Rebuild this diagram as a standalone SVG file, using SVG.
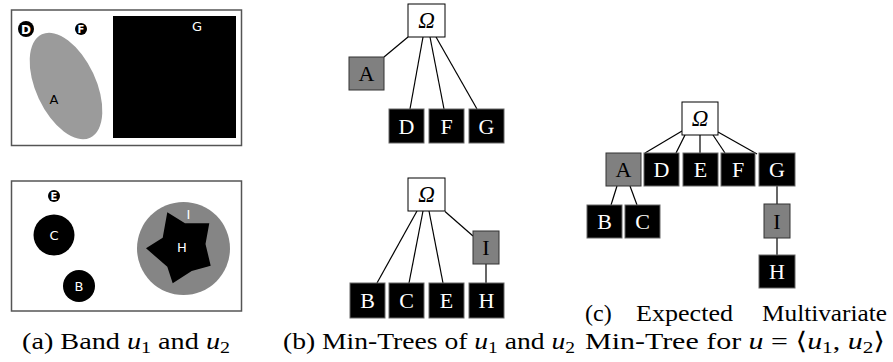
<svg xmlns="http://www.w3.org/2000/svg" width="893" height="362" viewBox="0 0 893 362">
  <style>
    .frame{fill:#fff;stroke:#555;stroke-width:1.5}
    .sans{font-family:"DejaVu Sans","Liberation Sans",sans-serif;text-anchor:middle}
    .edge{stroke:#000;stroke-width:1.2;fill:none}
    .nb{fill:#000;stroke:#666;stroke-width:1}
    .ng{fill:#808080;stroke:#333;stroke-width:1}
    .nw{fill:#fff;stroke:#000;stroke-width:1}
    .lbl{font-family:"Liberation Serif","Times New Roman","DejaVu Serif",serif;font-size:22px;text-anchor:middle}
    .lw{fill:#fff}
    .om{font-style:italic;font-size:23px}
    .cap{font-family:"Liberation Serif","Times New Roman","DejaVu Serif",serif;font-size:24px;fill:#000}
    .mi{font-style:italic}
  </style>

  <!-- (a) band images -->
  <g id="band-u1">
    <rect class="frame" x="11.5" y="10" width="230" height="135.5"/>
    <rect x="113" y="16" width="123" height="122" fill="#000"/>
    <ellipse cx="66" cy="86" rx="30" ry="57" transform="rotate(-25 66 86)" fill="#9b9b9b"/>
    <circle cx="26" cy="29" r="8" fill="#000"/>
    <text class="sans" x="26" y="33.5" font-size="12" font-weight="bold" fill="#fff">D</text>
    <circle cx="81" cy="29" r="6" fill="#000"/>
    <text class="sans" x="81" y="32.5" font-size="10" font-weight="bold" fill="#fff">F</text>
    <text class="sans" x="54" y="104" font-size="13" fill="#000">A</text>
    <text class="sans" x="197" y="31" font-size="13" fill="#fff">G</text>
  </g>
  <g id="band-u2">
    <rect class="frame" x="11.5" y="181" width="230" height="130"/>
    <circle cx="54" cy="196" r="6" fill="#000"/>
    <text class="sans" x="54" y="199.5" font-size="10" font-weight="bold" fill="#fff">E</text>
    <circle cx="54" cy="235" r="20.5" fill="#000"/>
    <text class="sans" x="54" y="240" font-size="13" fill="#fff">C</text>
    <circle cx="79" cy="286" r="16" fill="#000"/>
    <text class="sans" x="79" y="291" font-size="13" fill="#fff">B</text>
    <circle cx="183.5" cy="248.5" r="46.5" fill="#858585"/>
    <polygon points="167.3,212.3 185,223.3 209.3,223.3 205.5,244 210.7,265.7 191.7,271 172.7,283.3 167.3,266.7 146,248.3 162.7,237.7" fill="#000"/>
    <text class="sans" x="188.5" y="218.5" font-size="13" fill="#fff">I</text>
    <text class="sans" x="182" y="251.5" font-size="13" fill="#fff">H</text>
  </g>

  <!-- connectors -->
  <g id="connectors" class="edge">
    <!-- min-tree of u1 -->
    <line x1="408" y1="37" x2="384" y2="57"/>
    <line x1="423" y1="37" x2="410" y2="109"/>
    <line x1="430" y1="37" x2="444" y2="109"/>
    <line x1="436" y1="37" x2="477" y2="109"/>
    <!-- min-tree of u2 -->
    <line x1="417" y1="211" x2="377" y2="283"/>
    <line x1="423" y1="211" x2="409" y2="283"/>
    <line x1="429" y1="211" x2="443" y2="283"/>
    <line x1="445" y1="211.5" x2="473" y2="236"/>
    <line x1="486" y1="264" x2="486" y2="283"/>
    <!-- multivariate min-tree -->
    <line x1="682" y1="131" x2="645" y2="153"/>
    <line x1="685" y1="135" x2="676" y2="153"/>
    <line x1="700" y1="135" x2="700" y2="153"/>
    <line x1="713" y1="135" x2="725" y2="153"/>
    <line x1="718" y1="132" x2="757" y2="154"/>
    <line x1="617" y1="186" x2="611" y2="205"/>
    <line x1="630" y1="186" x2="637" y2="205"/>
    <line x1="777" y1="186" x2="777" y2="204"/>
    <line x1="777" y1="238" x2="777" y2="255"/>
  </g>

  <!-- (b) min-tree of u1 -->
  <g id="t1-omega"><rect class="nw" x="408" y="4" width="37" height="33"/><text class="lbl om" x="426.5" y="28">Ω</text></g>
  <g id="t1-A"><rect class="ng" x="349" y="57" width="35" height="33"/><text class="lbl" x="366.5" y="81">A</text></g>
  <g id="t1-D"><rect class="nb" x="389" y="109" width="35" height="34"/><text class="lbl lw" x="406.5" y="134">D</text></g>
  <g id="t1-F"><rect class="nb" x="429" y="109" width="35" height="34"/><text class="lbl lw" x="446.5" y="134">F</text></g>
  <g id="t1-G"><rect class="nb" x="469" y="109" width="35" height="34"/><text class="lbl lw" x="486.5" y="134">G</text></g>

  <!-- (b) min-tree of u2 -->
  <g id="t2-omega"><rect class="nw" x="408" y="178" width="37" height="33"/><text class="lbl om" x="426.5" y="202">Ω</text></g>
  <g id="t2-I"><rect class="ng" x="473" y="231" width="26" height="33"/><text class="lbl" x="486" y="255">I</text></g>
  <g id="t2-B"><rect class="nb" x="350" y="283" width="35" height="35"/><text class="lbl lw" x="367.5" y="308">B</text></g>
  <g id="t2-C"><rect class="nb" x="389" y="283" width="35" height="35"/><text class="lbl lw" x="406.5" y="308">C</text></g>
  <g id="t2-E"><rect class="nb" x="429" y="283" width="35" height="35"/><text class="lbl lw" x="446.5" y="308">E</text></g>
  <g id="t2-H"><rect class="nb" x="469" y="283" width="35" height="35"/><text class="lbl lw" x="486.5" y="308">H</text></g>

  <!-- (c) multivariate min-tree -->
  <g id="mt-omega"><rect class="nw" x="682" y="102" width="36" height="33"/><text class="lbl om" x="700" y="126">Ω</text></g>
  <g id="mt-A"><rect class="ng" x="606" y="153" width="35" height="33"/><text class="lbl" x="623.5" y="177">A</text></g>
  <g id="mt-D"><rect class="nb" x="644" y="153" width="35" height="33"/><text class="lbl lw" x="661.5" y="177">D</text></g>
  <g id="mt-E"><rect class="nb" x="683" y="153" width="35" height="33"/><text class="lbl lw" x="700.5" y="177">E</text></g>
  <g id="mt-F"><rect class="nb" x="721" y="153" width="34" height="33"/><text class="lbl lw" x="738" y="177">F</text></g>
  <g id="mt-G"><rect class="nb" x="759" y="153" width="36" height="33"/><text class="lbl lw" x="777" y="177">G</text></g>
  <g id="mt-B"><rect class="nb" x="587" y="205" width="35" height="33"/><text class="lbl lw" x="604.5" y="229">B</text></g>
  <g id="mt-C"><rect class="nb" x="625" y="205" width="35" height="33"/><text class="lbl lw" x="642.5" y="229">C</text></g>
  <g id="mt-I"><rect class="ng" x="764" y="204" width="26" height="34"/><text class="lbl" x="777" y="229">I</text></g>
  <g id="mt-H"><rect class="nb" x="759" y="255" width="36" height="33"/><text class="lbl lw" x="777" y="279">H</text></g>

  <!-- captions -->
  <g id="captions">
    <text class="cap" x="22" y="349" textLength="208" lengthAdjust="spacingAndGlyphs">(a) Band <tspan class="mi">u</tspan><tspan font-size="17" dy="4">1</tspan><tspan dy="-4"> and </tspan><tspan class="mi">u</tspan><tspan font-size="17" dy="4">2</tspan></text>
    <text class="cap" x="283" y="349" textLength="292" lengthAdjust="spacingAndGlyphs">(b) Min-Trees of <tspan class="mi">u</tspan><tspan font-size="17" dy="4">1</tspan><tspan dy="-4"> and </tspan><tspan class="mi">u</tspan><tspan font-size="17" dy="4">2</tspan></text>
    <text class="cap" x="585" y="321">(c)</text>
    <text class="cap" x="636" y="321" textLength="97" lengthAdjust="spacingAndGlyphs">Expected</text>
    <text class="cap" x="762" y="321" textLength="125" lengthAdjust="spacingAndGlyphs">Multivariate</text>
    <text class="cap" x="585" y="349" textLength="300" lengthAdjust="spacingAndGlyphs">Min-Tree for <tspan class="mi">u</tspan> = ⟨<tspan class="mi">u</tspan><tspan font-size="17" dy="4">1</tspan><tspan dy="-4">, </tspan><tspan class="mi">u</tspan><tspan font-size="17" dy="4">2</tspan><tspan dy="-4">⟩</tspan></text>
  </g>
</svg>
